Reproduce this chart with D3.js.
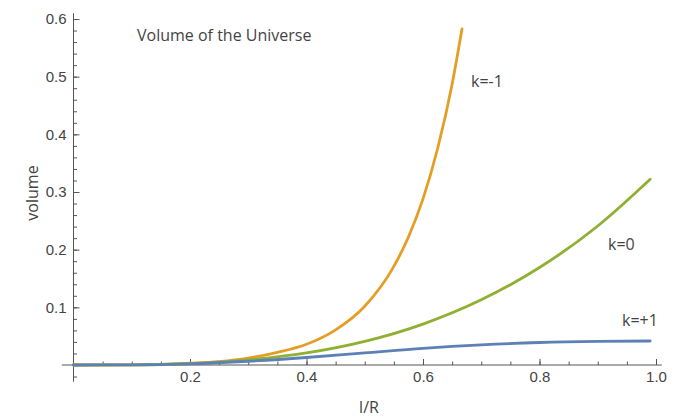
<!DOCTYPE html>
<html>
<head>
<meta charset="utf-8">
<script src="https://cdn.jsdelivr.net/npm/d3@7"></script>
<style>
  body { margin: 0; background: #fff; }
  svg { display: block; }
  .tick text { font-family: "Liberation Sans", Arial, sans-serif; font-size: 15px; fill: #444; }
  .lbl { font-family: "Open Sans", sans-serif; fill: #444; }
</style>
</head>
<body>
<div class="chart"></div>
<script>
//Curve data (l/R -> volume)
var openX = [0, 0.05, 0.1, 0.15, 0.2, 0.25, 0.3, 0.35, 0.4, 0.45, 0.5, 0.55, 0.575, 0.6, 0.625, 0.65, 0.667];
var openV = [0, 0, 0.0003, 0.001, 0.003, 0.006, 0.012, 0.022, 0.036, 0.061, 0.102, 0.171, 0.222, 0.288, 0.375, 0.487, 0.583];

var gridX = [0, 0.1, 0.2, 0.3, 0.4, 0.5, 0.6, 0.7, 0.8, 0.9, 0.99];
var flatV = [0, 0.0003, 0.0026, 0.009, 0.021, 0.041, 0.071, 0.113, 0.169, 0.241, 0.322];
var closedV = [0, 0.0002, 0.002, 0.0065, 0.013, 0.021, 0.029, 0.035, 0.039, 0.041, 0.0416];

//Tick values
var xMajor = [0.2, 0.4, 0.6, 0.8, 1.0];
var xMinor = d3.range(0.05, 1.01, 0.05);
var yMajor = [0.1, 0.2, 0.3, 0.4, 0.5, 0.6];
var yMinor = d3.range(-0.02, 0.61, 0.02);

var series = [
    { name: "k=-1", xs: openX, vs: openV, color: "#E49E26" },
    { name: "k=0", xs: gridX, vs: flatV, color: "#8FB032" },
    { name: "k=+1", xs: gridX, vs: closedV, color: "#5E81B5" }
];

//Width and height
var w = 685;
var h = 417;

var svg = d3.select(".chart")
    .append("svg")
    .attr("width", w)
    .attr("height", h);

//Scales
var xScale = d3.scaleLinear().domain([0, 1]).range([73.5, 656]);
var yScale = d3.scaleLinear().domain([0, 0.6]).range([365, 19]);

//Axis lines
svg.append("line")
    .attr("x1", xScale(-0.02)).attr("x2", xScale(1.01))
    .attr("y1", yScale(0)).attr("y2", yScale(0))
    .attr("stroke", "#555");
svg.append("line")
    .attr("x1", xScale(0)).attr("x2", xScale(0))
    .attr("y1", yScale(-0.029)).attr("y2", yScale(0.61))
    .attr("stroke", "#555");

//X axis
svg.append("g")
    .attr("transform", "translate(0," + yScale(0) + ")")
    .call(d3.axisBottom(xScale).tickValues(xMinor).tickSize(-3.5).tickFormat(""));
svg.append("g")
    .attr("transform", "translate(0," + yScale(0) + ")")
    .call(d3.axisBottom(xScale).tickValues(xMajor).tickSize(-6).tickPadding(6).tickFormat(d3.format(".1f")));

//Y axis
svg.append("g")
    .attr("transform", "translate(" + xScale(0) + ",0)")
    .call(d3.axisLeft(yScale).tickValues(yMinor).tickSize(-3.5).tickFormat(""));
svg.append("g")
    .attr("transform", "translate(" + xScale(0) + ",0)")
    .call(d3.axisLeft(yScale).tickValues(yMajor).tickSize(-6).tickPadding(7).tickFormat(d3.format(".1f")));

svg.selectAll(".domain").remove();
svg.selectAll(".tick line").attr("stroke", "#555");

//Curves
var line = d3.line()
    .x(d => xScale(d[0]))
    .y(d => yScale(d[1]))
    .curve(d3.curveMonotoneX);

svg.selectAll(".curve")
    .data(series)
    .enter()
    .append("path")
    .attr("class", "curve")
    .attr("d", s => line(s.xs.map((x, i) => [x, s.vs[i]])))
    .attr("fill", "none")
    .attr("stroke", s => s.color)
    .attr("stroke-width", 2.8)
    .attr("stroke-linecap", "round");

//Texts
svg.append("text")
    .attr("class", "lbl")
    .attr("x", 137).attr("y", 41)
    .style("font-size", "16px")
    .text("Volume of the Universe");

svg.append("text")
    .attr("class", "lbl")
    .attr("transform", "translate(38,193) rotate(-90)")
    .attr("text-anchor", "middle")
    .style("font-size", "16px")
    .text("volume");

svg.append("text")
    .attr("class", "lbl")
    .attr("x", 369).attr("y", 413)
    .attr("text-anchor", "middle")
    .style("font-size", "16px")
    .text("l/R");

var labelPos = [[471, 87], [608, 250], [622, 326]];
svg.selectAll(".klbl")
    .data(series)
    .enter()
    .append("text")
    .attr("class", "lbl klbl")
    .attr("x", (s, i) => labelPos[i][0])
    .attr("y", (s, i) => labelPos[i][1])
    .style("font-size", "16px")
    .text(s => s.name);
</script>
</body>
</html>
